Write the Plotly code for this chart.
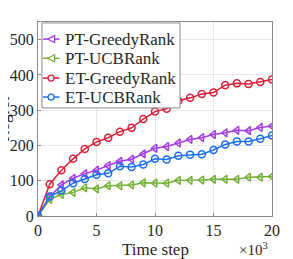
import plotly.graph_objects as go

x_k = list(range(0, 21))

pt_greedy = [0, 55, 88, 107, 120, 130, 143, 155, 161, 176, 192, 197, 207, 217, 222, 231, 236, 243, 242, 251, 255]
pt_ucb = [0, 47, 61, 67, 80, 77, 86, 86, 88, 94, 93, 93, 101, 101, 102, 104, 104, 104, 110, 110, 112]
et_greedy = [0, 90, 130, 162, 190, 210, 222, 239, 250, 275, 296, 304, 327, 335, 346, 350, 371, 376, 374, 380, 387]
et_ucb = [0, 55, 72, 93, 105, 117, 121, 141, 139, 146, 162, 160, 171, 174, 175, 187, 203, 211, 211, 219, 228]

series = [
    ("PT-GreedyRank", pt_greedy, "#A23CE8", "triangle-left-open"),
    ("PT-UCBRank", pt_ucb, "#74B036", "triangle-left-open"),
    ("ET-GreedyRank", et_greedy, "#D9213A", "circle-open"),
    ("ET-UCBRank", et_ucb, "#1C6FF0", "circle-open"),
]

fig = go.Figure()
for name, ys, col, sym in series:
    fig.add_trace(go.Scatter(
        x=x_k, y=ys, name=name, mode="lines+markers", showlegend=False,
        line=dict(color=col, width=1.5),
        marker=dict(symbol=sym, size=7, color=col, line=dict(width=1.5, color=col)),
    ))

font = "Liberation Serif, Times New Roman, serif"
axis_common = dict(
    showline=True, linecolor="#8a8a8a", linewidth=1, mirror=True,
    ticks="inside", ticklen=3, tickcolor="#8a8a8a",
    showgrid=True, gridcolor="#e6e6e6", gridwidth=1,
    zeroline=False, automargin=False,
    tickfont=dict(family=font, size=16, color="#262626"),
)
fig.update_xaxes(range=[0, 20], tickvals=[0, 5, 10, 15, 20], **axis_common)
fig.update_yaxes(range=[0, 550], tickvals=[0, 100, 200, 300, 400, 500], **axis_common)

# plot-area size in px, used to convert legend geometry to paper units
W, H = 234.0, 194.0
L_, R_, T_, B_ = 30, 21, 14, 43

shapes = []
annotations = []
# legend box
shapes.append(dict(type="rect", xref="paper", yref="paper",
                   x0=0.017, x1=0.607, y0=0.557, y1=0.995,
                   line=dict(color="#8a8a8a", width=1), fillcolor="white", layer="above"))
row_y = [0.912, 0.813, 0.711, 0.613]
lx0, lx1, mx, tx = 0.021, 0.092, 0.056, 0.108
for (name, ys, col, sym), ry in zip(series, row_y):
    shapes.append(dict(type="line", xref="paper", yref="paper",
                       x0=lx0, x1=lx1, y0=ry, y1=ry,
                       line=dict(color=col, width=1.5), layer="above"))
    if sym.startswith("triangle"):
        dx, dy = 3.5 / W, 3.5 / H
        path = (f"M {mx - dx:.4f} {ry:.4f} L {mx + dx:.4f} {ry + dy:.4f} "
                f"L {mx + dx:.4f} {ry - dy:.4f} Z")
        shapes.append(dict(type="path", xref="paper", yref="paper", path=path,
                           line=dict(color=col, width=1.3), fillcolor="white", layer="above"))
    else:
        dx, dy = 3.0 / W, 3.0 / H
        shapes.append(dict(type="circle", xref="paper", yref="paper",
                           x0=mx - dx, x1=mx + dx, y0=ry - dy, y1=ry + dy,
                           line=dict(color=col, width=1.3), fillcolor="white", layer="above"))
    annotations.append(dict(text=name, xref="paper", yref="paper", x=tx, y=ry,
                            xanchor="left", yanchor="middle", showarrow=False,
                            font=dict(family=font, size=17, color="#262626")))

annotations += [
    dict(text="Time step", xref="paper", yref="paper", x=0.5, y=-0.112,
         xanchor="center", yanchor="top", showarrow=False,
         font=dict(family=font, size=17, color="#262626")),
    dict(text="×10<sup>3</sup>", xref="paper", yref="paper", x=0.99, y=-0.112,
         xanchor="right", yanchor="top", showarrow=False,
         font=dict(family=font, size=15, color="#262626")),
    dict(text="Regret", xref="paper", yref="paper", x=-0.15, y=0.5,
         xanchor="center", yanchor="middle", textangle=-90, showarrow=False,
         font=dict(family=font, size=17, color="#262626")),
]

fig.update_layout(
    width=285, height=251,
    margin=dict(l=L_, r=R_, t=T_, b=B_),
    paper_bgcolor="white", plot_bgcolor="white",
    font=dict(family=font, color="#262626"),
    showlegend=False,
    shapes=shapes,
    annotations=annotations,
)

fig.write_html("out.html")
